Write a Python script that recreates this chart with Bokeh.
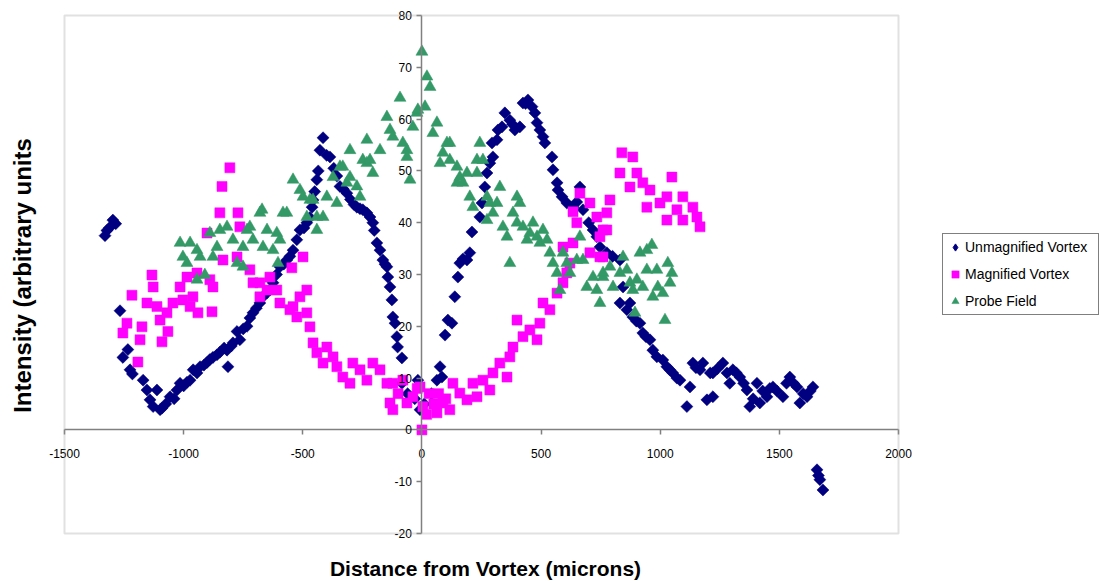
import math
from bokeh.plotting import figure
from bokeh.models import Range1d, FixedTicker, Legend, LegendItem, ColumnDataSource, BoxAnnotation, Label
from bokeh.embed import file_html
from bokeh.resources import INLINE

# ---------------- data ----------------
x_ticks = [-1500, -1000, -500, 0, 500, 1000, 1500, 2000]
y_ticks = [-20, -10, 0, 10, 20, 30, 40, 50, 60, 70, 80]
x_min, x_max = -1500, 2000
y_min, y_max = -20, 80

series_names = ["Unmagnified Vortex", "Magnified Vortex", "Probe Field"]
x_title = "Distance from Vortex (microns)"
y_title = "Intensity (arbitrary units"

unmagnified_pts = [
    (-1330, 37.5), (-1322, 38.5), (-1312, 39), (-1297, 40.5), (-1285, 39.8),
    (-1267, 23), (-1255, 14), (-1234, 15.5), (-1225, 11.6), (-1215, 10.8), (-1170, 9.6),
    (-1154, 7.7), (-1141, 5.8), (-1128, 4.5), (-1112, 7.7), (-1099, 3.9), (-1091, 4.2),
    (-1075, 5), (-1057, 6.4), (-1040, 6), (-1028, 7.7), (-1015, 9), (-1000, 8.5),
    (-986, 9.2), (-973, 9.6), (-960, 11.6), (-944, 11), (-931, 12.2), (-915, 12.5),
    (-902, 13), (-890, 13.6), (-877, 14), (-860, 14.5), (-848, 15), (-830, 15.8),
    (-818, 15.4), (-814, 12.2), (-800, 16.2), (-793, 16.8), (-776, 19), (-764, 17.4),
    (-750, 19.5), (-734, 20), (-722, 21.6), (-709, 22.6), (-695, 23.5), (-680, 24.5),
    (-667, 25.7), (-650, 26.5), (-638, 27), (-625, 28.4), (-610, 30), (-596, 31.5),
    (-580, 32), (-567, 32.8), (-554, 33.5), (-541, 34.7), (-525, 36.7), (-512, 38.6),
    (-495, 39), (-483, 40), (-470, 41), (-461, 43), (-457, 44.4), (-450, 46),
    (-441, 48.3), (-435, 50), (-428, 54), (-415, 56.4), (-400, 53), (-386, 52.7),
    (-370, 50.5), (-357, 49), (-344, 47), (-330, 46.5), (-315, 45.7), (-300, 44.5),
    (-285, 43.5), (-273, 43), (-260, 42.7), (-248, 42.5), (-231, 41.9), (-218, 41.1),
    (-206, 40), (-200, 38.5), (-189, 36.1), (-176, 34.7), (-164, 32.8), (-155, 32),
    (-147, 31.5), (-143, 29.5), (-134, 27.6), (-126, 25.1), (-122, 21.8), (-113, 20.6),
    (-105, 18), (-102, 16), (-84, 13.9), (-84, 9), (-60, 7), (-30, 6), (-17, 9.6),
    (-8, 3.9), (10, 5), (40, 7), (63, 9.6), (76, 12.2), (84, 10.2), (97, 18.3),
    (109, 21.2), (126, 20.6), (138, 25.7), (151, 29.5), (159, 32.2), (172, 33),
    (189, 32.8), (201, 34.2), (210, 38.2), (243, 41.1), (252, 43.8), (264, 46.9),
    (273, 49.6), (285, 51.5), (298, 52.7), (294, 55.4), (315, 56), (319, 57.9),
    (336, 58.5), (348, 61.2), (369, 59.8), (380, 59), (390, 57.9), (411, 58.5),
    (424, 63.1), (435, 63), (445, 63.7), (462, 62.4), (474, 61.2), (483, 59.3),
    (495, 57.9), (508, 56.6), (516, 55.4), (546, 52.7), (550, 50.2), (567, 47.7),
    (571, 46.3), (588, 45), (608, 43.8), (634, 43), (650, 44), (663, 46.9), (676, 42.5),
    (700, 40), (718, 38.6), (734, 37.3), (747, 35.3), (776, 34.2), (800, 33.5),
    (831, 32.8), (844, 27.6), (831, 24.5), (860, 23.2), (873, 24.5), (885, 21.8),
    (900, 21), (915, 20.6), (927, 18.7), (940, 18), (957, 17.4), (969, 15.4),
    (986, 14.1), (1011, 13.5), (1028, 12.2), (1040, 11.6), (1053, 11), (1070, 10),
    (1083, 9.6), (1112, 4.5), (1125, 8.3), (1137, 12.9), (1150, 12), (1167, 11.6),
    (1179, 12.9), (1196, 5.8), (1210, 11), (1221, 6.4), (1221, 11), (1240, 11.8),
    (1263, 12.9), (1280, 11), (1292, 9), (1305, 11.6), (1320, 11), (1334, 10.2),
    (1350, 9), (1364, 7.7), (1376, 4.5), (1390, 6), (1406, 9), (1418, 5.2),
    (1430, 7.5), (1448, 6.4), (1460, 8), (1473, 8.3), (1490, 7.5), (1515, 6.4),
    (1530, 9), (1544, 10.2), (1560, 9), (1574, 8.3), (1586, 5.2), (1600, 7),
    (1616, 6.4), (1630, 7.5), (1641, 8.3), (1658, -7.7), (1664, -8.8), (1670, -9.6),
    (1683, -11.6),
]

magnified_pts = [
    (-1238, 20.6), (-1255, 18.7), (-1217, 26), (-1192, 13.1), (-1183, 17.4), (-1175, 19.9),
    (-1154, 24.5), (-1133, 29.9), (-1128, 27.6), (-1112, 23.8), (-1099, 21.2), (-1091, 17),
    (-1070, 22.6), (-1066, 19), (-1045, 24.5), (-1015, 27.6), (-1003, 25.1), (-986, 29.5),
    (-973, 23.8), (-961, 25.7), (-944, 30.3), (-940, 22.6), (-902, 38), (-890, 29),
    (-881, 22.8), (-877, 27.6), (-848, 41.9), (-839, 47), (-835, 32.8), (-806, 50.6),
    (-776, 33.4), (-772, 41.9), (-764, 39.2), (-722, 30.9), (-709, 28.4), (-680, 25.7),
    (-680, 28.4), (-650, 27), (-638, 29.5), (-609, 27), (-596, 24.5), (-554, 23.2),
    (-546, 31.3), (-541, 23.8), (-525, 21.8), (-512, 25.7), (-499, 33.4), (-483, 27),
    (-483, 22.6), (-470, 19.9), (-457, 16.8), (-441, 14.9), (-415, 12.9), (-399, 16),
    (-373, 14.1), (-357, 12.2), (-332, 10.2), (-302, 9), (-290, 12.9), (-260, 11.6),
    (-231, 9.6), (-206, 12.9), (-176, 11.6), (-147, 9), (-134, 5.2), (-122, 9),
    (-122, 3.9), (-100, 7), (-80, 9.6), (-63, 5.2), (-38, 6.4), (-20, 8), (-8, 8.3),
    (4, 4.5), (0, 0), (20, 3), (30, 7), (50, 5), (63, 3.3), (70, 7), (88, 5.2),
    (100, 6), (117, 3.9), (130, 9), (159, 7.1), (189, 5.8), (214, 9), (231, 6.4),
    (256, 9.6), (285, 7.7), (298, 11), (327, 12.9), (357, 10.2), (369, 14.1), (382, 16),
    (399, 21.2), (424, 18), (453, 19.3), (483, 17.4), (495, 20.6), (508, 24.5),
    (537, 23.2), (567, 26.4), (592, 28.4), (608, 30.3), (621, 32.2), (592, 35.3),
    (634, 36.1), (634, 42.1), (650, 40), (663, 45.7), (705, 43.8), (705, 34.2),
    (734, 41.1), (747, 33.4), (747, 37.3), (760, 38.6), (760, 33.4), (776, 41.9),
    (776, 38.6), (789, 44.4), (831, 49.6), (839, 53.5), (873, 46.9), (885, 52.7),
    (902, 49.6), (927, 47.7), (944, 43), (957, 46.3), (999, 43.8), (1028, 45),
    (1028, 40.5), (1049, 48.8), (1070, 42.5), (1095, 45), (1095, 40.5), (1137, 43),
    (1154, 41.1), (1167, 39.2),
]

probe_pts = [
    (-1015, 36.1), (-1003, 33.4), (-986, 32.2), (-973, 36.1), (-944, 34.7), (-944, 29),
    (-931, 33.4), (-911, 29.9), (-890, 38), (-877, 33.4), (-860, 35.3), (-848, 38.6),
    (-818, 39.2), (-793, 36.7), (-776, 32.2), (-751, 31.5), (-751, 35.3), (-734, 38.6),
    (-722, 39.2), (-709, 36.7), (-680, 41.9), (-671, 42.5), (-667, 35.3), (-650, 38.6),
    (-625, 34.7), (-609, 38), (-604, 32.2), (-596, 36.7), (-583, 41.9), (-567, 41.9),
    (-541, 48.3), (-512, 46.3), (-499, 45), (-483, 41.1), (-470, 44.4), (-457, 44.4),
    (-441, 41.1), (-441, 38.6), (-415, 41.1), (-399, 45), (-373, 48.8), (-357, 43.8),
    (-344, 50.8), (-332, 50.8), (-315, 47.7), (-302, 54), (-302, 48.8), (-273, 47),
    (-260, 45), (-248, 52.1), (-231, 56), (-231, 51.5), (-218, 52.1), (-206, 49.6),
    (-176, 54), (-147, 60.4), (-134, 57.9), (-122, 56.6), (-92, 64.1), (-80, 55.4),
    (-63, 54), (-63, 52.7), (-50, 48.3), (-38, 58.5), (-21, 61.2), (-17, 61.8), (0, 73),
    (13, 62.4), (21, 68.2), (34, 66.2), (46, 57.3), (63, 59.3), (76, 51.5), (88, 53.5),
    (105, 55.4), (117, 55.4), (117, 52.1), (147, 50.8), (147, 47.7), (159, 48.8),
    (172, 47.7), (189, 49.6), (201, 45), (214, 43), (231, 52.1), (231, 49.6), (243, 55.4),
    (256, 52.1), (273, 45), (273, 40.5), (285, 43.8), (298, 41.9), (315, 43.8),
    (327, 46.9), (340, 39.2), (357, 37.3), (369, 32.2), (382, 41.9), (399, 45), (399, 40),
    (411, 43.8), (424, 39.2), (441, 36.7), (453, 38), (466, 40), (483, 37.3), (495, 36.1),
    (508, 38.6), (525, 36.7), (537, 34.2), (550, 32.2), (567, 30.3), (579, 27),
    (592, 34.2), (608, 32.2), (621, 30.3), (650, 32.8), (663, 37.3), (676, 32.8),
    (692, 27.6), (718, 29.5), (734, 27), (747, 24.5), (760, 29.5), (760, 30.3),
    (789, 31.5), (802, 27.6), (831, 30.3), (844, 33.4), (860, 30.9), (873, 28.4),
    (885, 27), (894, 22.6), (902, 29), (915, 34.2), (927, 27.6), (944, 34.7), (944, 30.9),
    (965, 35.7), (969, 25.7), (986, 30.9), (990, 27.6), (1011, 26.4), (1020, 21.2),
    (1032, 32.2), (1041, 28.4), (1049, 30.3),
]

unmag_x = [a for a, b in unmagnified_pts]
unmag_y = [b for a, b in unmagnified_pts]
mag_x = [a for a, b in magnified_pts]
mag_y = [b for a, b in magnified_pts]
probe_x = [a for a, b in probe_pts]
probe_y = [b for a, b in probe_pts]

# ---------------- layout geometry (pixels) ----------------
# The frame spans the whole canvas; the Excel plot-area box sits inside it.
W, H = 1100, 583
area_left, area_right, area_top, area_bottom = 64, 898, 15, 533
kx = (area_right - area_left) / (x_max - x_min)
ky = (area_bottom - area_top) / (y_max - y_min)

FONT = "Liberation Sans"

p = figure(width=W, height=H, output_backend="svg", toolbar_location=None,
           x_range=Range1d(x_min - area_left / kx, x_max + (W - area_right) / kx),
           y_range=Range1d(y_min - (H - area_bottom) / ky, y_max + area_top / ky),
           min_border_left=0, min_border_right=0, min_border_top=0, min_border_bottom=0)

p.background_fill_color = "white"
p.border_fill_color = "white"
p.outline_line_color = None
p.xgrid.visible = False
p.ygrid.visible = False

# plot-area box
p.add_layout(BoxAnnotation(left=x_min, right=x_max, bottom=y_min, top=y_max,
                           fill_alpha=0, line_color="#9a9a9a", line_width=2))

for ax, ticks, bnds in ((p.xaxis[0], x_ticks, (x_min, x_max)), (p.yaxis[0], y_ticks, (y_min, y_max))):
    ax.ticker = FixedTicker(ticks=ticks)
    ax.major_label_overrides = {t: str(t) for t in ticks}
    ax.fixed_location = 0
    ax.bounds = bnds
    ax.axis_line_color = "#808080"
    ax.axis_line_width = 1.5
    ax.major_tick_line_color = "#808080"
    ax.major_tick_line_width = 1.5
    ax.major_tick_in = 0
    ax.major_tick_out = 5
    ax.minor_tick_line_color = None
    ax.major_label_text_font = FONT
    ax.major_label_text_font_size = "12px"
    ax.major_label_text_color = "black"
p.xaxis[0].major_label_standoff = 14
p.yaxis[0].major_label_standoff = 5

src_u = ColumnDataSource(dict(x=unmag_x, y=unmag_y))
src_m = ColumnDataSource(dict(x=mag_x, y=mag_y))
src_p = ColumnDataSource(dict(x=probe_x, y=probe_y))

r_u = p.scatter("x", "y", source=src_u, marker="square", angle=math.pi / 4, size=8.5,
                fill_color="#000080", line_color="#000080", line_width=0.5)
r_m = p.scatter("x", "y", source=src_m, marker="square", size=10,
                fill_color="#FF00FF", line_color="#FF00FF", line_width=0.5)
r_p = p.scatter("x", "y", source=src_p, marker="triangle", size=12,
                fill_color="#339966", line_color="#339966", line_width=0.5)
# hidden twin so that the key shows a diamond
r_u_key = p.scatter("x", "y", source=src_u, marker="diamond", size=10,
                    fill_color="#000080", line_color="#000080", visible=False)

legend = Legend(items=[LegendItem(label=series_names[0], renderers=[r_u_key]),
                       LegendItem(label=series_names[1], renderers=[r_m]),
                       LegendItem(label=series_names[2], renderers=[r_p])],
                location=(942, H - 315))
legend.label_text_font = FONT
legend.label_text_font_size = "14px"
legend.label_text_color = "black"
legend.glyph_width = 18
legend.glyph_height = 20
legend.label_height = 20
legend.label_width = 130
legend.label_standoff = 1
legend.spacing = 7
legend.padding = 3
legend.margin = 0
legend.border_line_color = "black"
legend.border_line_width = 1
legend.background_fill_color = "white"
legend.inactive_fill_alpha = 0
p.add_layout(legend, "center")

p.add_layout(Label(x=485, y=H - 568, x_units="screen", y_units="screen", text=x_title,
                   text_align="center", text_baseline="middle",
                   text_font=FONT, text_font_style="bold", text_font_size="21px",
                   text_color="black"))
p.add_layout(Label(x=22, y=H - 275, x_units="screen", y_units="screen", text=y_title,
                   angle=math.pi / 2, text_align="center", text_baseline="middle",
                   text_font=FONT, text_font_style="bold", text_font_size="24px",
                   text_color="black"))

open("out.html", "w").write(file_html(p, INLINE))
